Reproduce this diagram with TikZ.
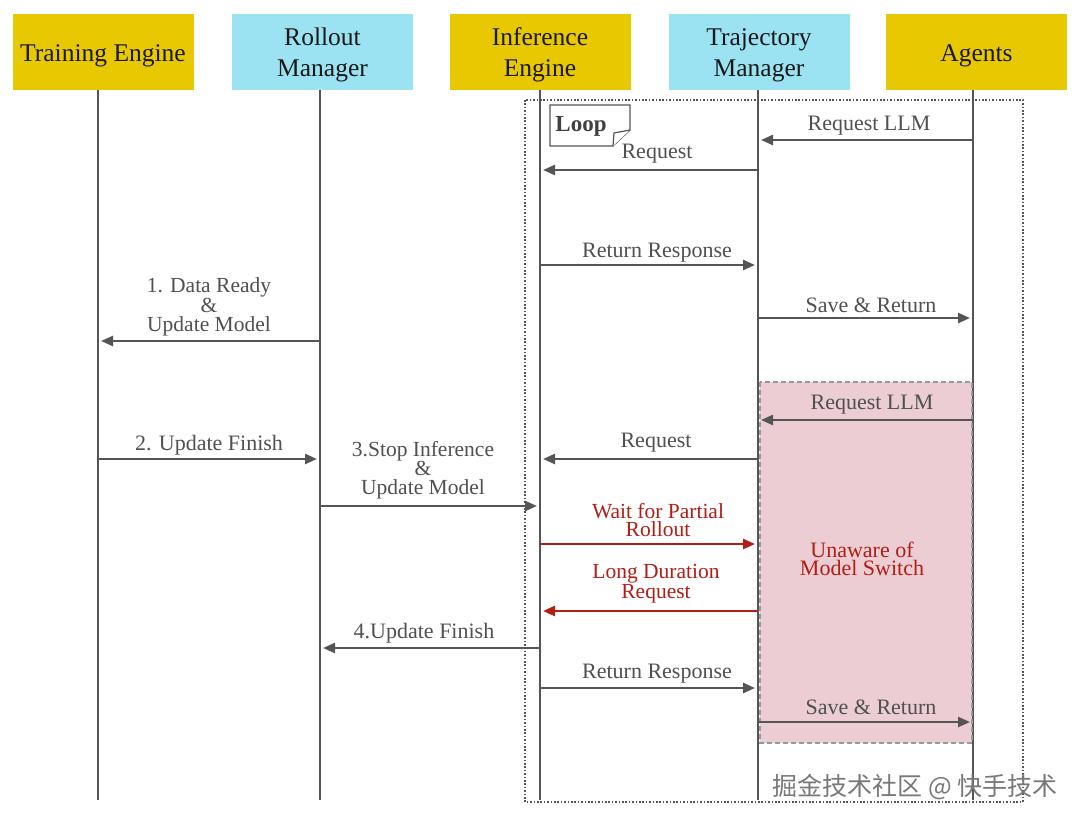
\documentclass[tikz,border=0pt]{standalone}
\usepackage{fontspec}
\setmainfont{Liberation Serif}
\newfontfamily\cjk{Noto Sans CJK SC}
\usetikzlibrary{arrows.meta}
\definecolor{hy}{RGB}{232,200,0}
\definecolor{hc}{RGB}{155,227,243}
\definecolor{pk}{RGB}{235,205,211}
\definecolor{lc}{RGB}{85,85,85}
\definecolor{tc}{RGB}{80,80,80}
\definecolor{rd}{RGB}{178,30,20}
\definecolor{wm}{RGB}{120,120,120}
\begin{document}
\begin{tikzpicture}[x=1pt,y=-1pt,
  hbox/.style={minimum width=181pt, minimum height=76pt, inner sep=0pt},
  htxt/.style={inner sep=0pt, font=\fontsize{25.5}{31}\selectfont, align=center, text=black!90},
  life/.style={line width=2.5pt, draw=lc},
  msg/.style={line width=2.4pt, draw=lc, -{Triangle[length=12pt,width=10pt]}, shorten >=3pt},
  rmsg/.style={msg, draw=rd},
  lbl/.style={font=\fontsize{22}{18}\selectfont, text=tc, inner sep=0pt, align=center},
  mlbl/.style={lbl, font=\fontsize{21.5}{18.5}\selectfont},
  rlbl/.style={mlbl, text=rd}]
\useasboundingbox (0,0) rectangle (1080,822);
\fill[white] (0,0) rectangle (1080,822);

% headers
\node[hbox, fill=hy] (te) at (103,52) {};
\node[hbox, fill=hc] (rm) at (322.5,52) {};
\node[hbox, fill=hy] (ie) at (540,52) {};
\node[hbox, fill=hc] (tm) at (759,52) {};
\node[hbox, fill=hy] (ag) at (976.5,52) {};
\node[htxt] (tet) at (103,56) {Training Engine};
\node[htxt] (rmt) at (322.5,55) {Rollout\\Manager};
\node[htxt] (iet) at (540,55) {Inference\\Engine};
\node[htxt] (tmt) at (759,55) {Trajectory\\Manager};
\node[htxt] (agt) at (976.5,56) {Agents};

% loop frame
\draw[lc, line width=1.6pt, dash pattern=on 1.6pt off 1.8pt] (525,100) rectangle (1023,802);

% pink region
\fill[pk] (760,382) rectangle (972,743);

% lifelines
\coordinate (l1) at (98,90);  \coordinate (e1) at (98,800);
\coordinate (l2) at (320,90); \coordinate (e2) at (320,800);
\coordinate (l3) at (540,90); \coordinate (e3) at (540,800);
\coordinate (l4) at (758,90); \coordinate (e4) at (758,800);
\coordinate (l5) at (973,90); \coordinate (e5) at (973,800);
\foreach \i in {1,...,5} \draw[life] (l\i) -- (e\i);

% pink border
\draw[draw=black!40, line width=2pt, dash pattern=on 5pt off 3pt] (760,382) rectangle (972,743);

% loop tag
\draw[lc, line width=1.2pt, fill=white] (550,105) -- (630,105) -- (630,130) -- (613,146) -- (550,146) -- cycle;
\draw[lc, line width=1.2pt, fill=white] (613,146) -- (614,133) -- (630,130);
\node[font=\bfseries\fontsize{23}{23}\selectfont, text=black!75, inner sep=0pt] (looptxt) at (581,126) {Loop};

% messages - first loop
\draw[msg] (l5 |- 0,140) -- (l4 |- 0,140);
\node[lbl] (m1) at (869,126) {Request LLM};
\draw[msg] (l4 |- 0,170) -- (l3 |- 0,170);
\node[lbl] (m2) at (657,154) {Request};
\draw[msg] (l3 |- 0,265) -- (l4 |- 0,265);
\node[lbl] (m3) at (657,253) {Return Response};
\draw[msg] (l4 |- 0,318) -- (l5 |- 0,318);
\node[lbl] (m4) at (871,305) {Save \& Return};

% update model
\draw[msg] (l2 |- 0,341) -- (l1 |- 0,341);
\node[mlbl] (m5) at (209,307) {1. Data Ready\\\&\\Update Model};
\draw[msg] (l1 |- 0,459) -- (l2 |- 0,459);
\node[lbl] (m6) at (209,445) {2. Update Finish};
\draw[msg] (l2 |- 0,506) -- (l3 |- 0,506);
\node[mlbl] (m7) at (423,470) {3.Stop Inference\\\&\\Update Model};

% second loop
\draw[msg] (l5 |- 0,420) -- (l4 |- 0,420);
\node[lbl] (m8) at (872,405) {Request LLM};
\draw[msg] (l4 |- 0,459) -- (l3 |- 0,459);
\node[lbl] (m9) at (656,443) {Request};
\draw[rmsg] (l3 |- 0,544) -- (l4 |- 0,544);
\node[rlbl] (m10) at (658,520) {Wait for Partial\\Rollout};
\draw[rmsg] (l4 |- 0,611) -- (l3 |- 0,611);
\node[rlbl, font=\fontsize{21.5}{20}\selectfont] (m11) at (656,584) {Long Duration\\Request};
\draw[msg] (l3 |- 0,648) -- (l2 |- 0,648);
\node[lbl] (m12) at (424,633) {4.Update Finish};
\draw[msg] (l3 |- 0,688) -- (l4 |- 0,688);
\node[lbl] (m13) at (657,674) {Return Response};
\draw[msg] (l4 |- 0,722) -- (l5 |- 0,722);
\node[lbl] (m14) at (871,707) {Save \& Return};

\node[rlbl, font=\fontsize{22}{18.5}\selectfont] (unaware) at (862,559) {Unaware of\\Model Switch};

% watermark
\node[font=\cjk\fontsize{25}{25}\selectfont, text=wm, inner sep=0pt] (wmk) at (915,787) {掘金技术社区 @ 快手技术};
\end{tikzpicture}
\end{document}
